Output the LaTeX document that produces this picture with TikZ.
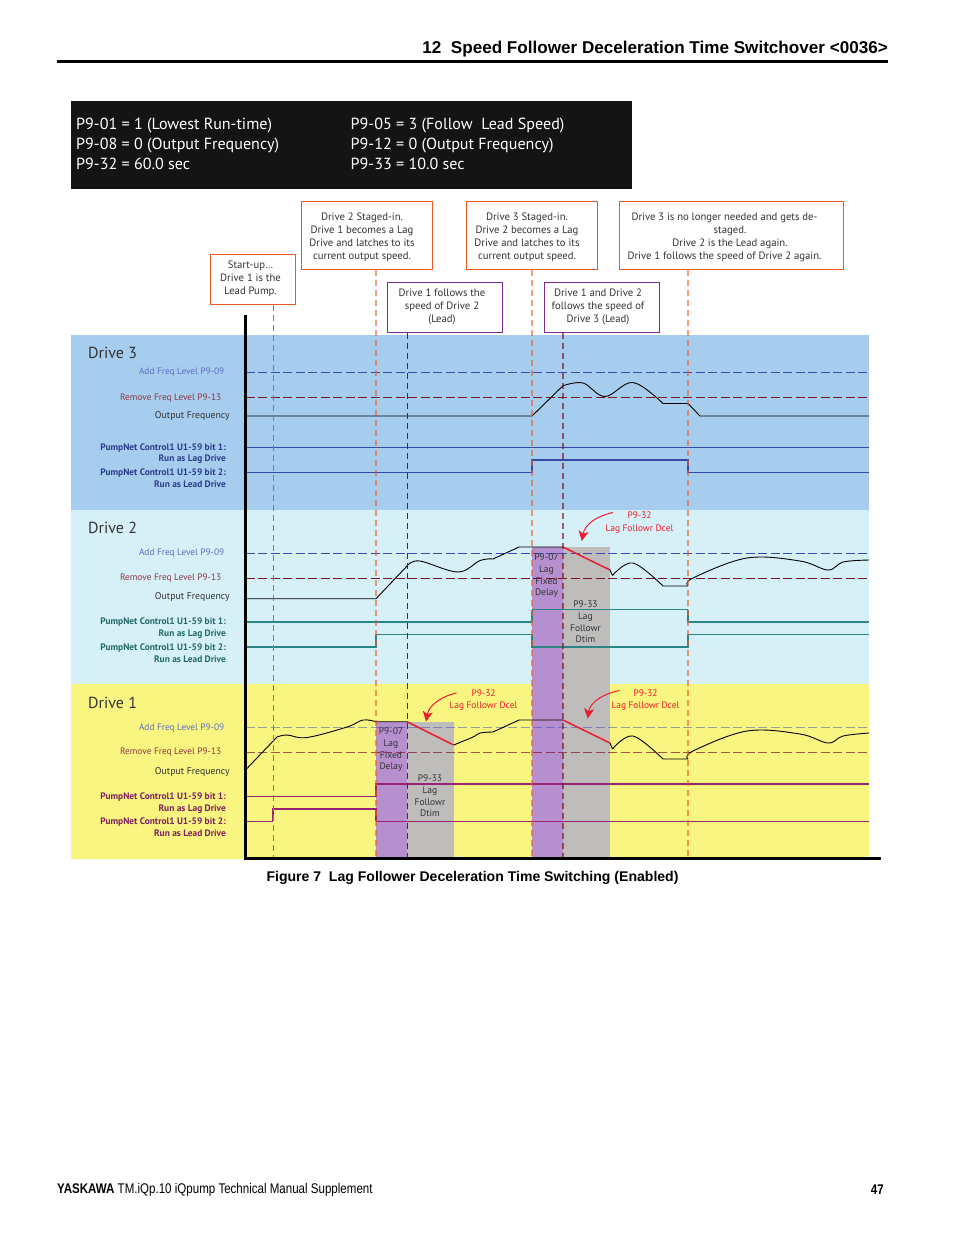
\documentclass[tikz,border=0pt]{standalone}
\usepackage{fontspec}
\setmainfont{PT Sans}
\newfontfamily\hfont{Liberation Sans}
\newfontfamily\footfont[FakeStretch=0.825]{Liberation Sans}
\usetikzlibrary{arrows.meta}
\definecolor{bandA}{HTML}{A6CDED}
\definecolor{bandB}{HTML}{D5F0F6}
\definecolor{bandC}{HTML}{F8F581}
\definecolor{purp}{HTML}{B68FCE}
\definecolor{gryb}{HTML}{BEBDBB}
\definecolor{boxor}{HTML}{EE5A24}
\definecolor{boxpu}{HTML}{7B2A8C}
\definecolor{addc}{HTML}{3A48B4}
\definecolor{remc}{HTML}{7A1424}
\definecolor{sigb}{HTML}{3547A8}
\definecolor{sigt}{HTML}{2B8585}
\definecolor{sigm}{HTML}{9A2270}
\definecolor{redc}{HTML}{EE1C2E}
\definecolor{txt}{HTML}{333333}
\tikzset{
 x=1pt,y=-1pt,
 band/.style={fill=#1,draw=none},
 note/.style={draw=#1,line width=.9pt,fill=white,inner sep=0pt},
 notetext/.style={inner sep=0pt,align=center,text=txt,font=\fontsize{10.7}{13}\selectfont},
 lab/.style={anchor=east,inner sep=0pt,font=\fontsize{9.35}{10}\selectfont,text=#1},
 olab/.style={anchor=east,inner sep=0pt,font=\fontsize{9.8}{10}\selectfont,text=txt},
 plab/.style={anchor=east,inner sep=0pt,align=right,font=\fontsize{9.4}{11.8}\bfseries\selectfont,text=#1},
 drv/.style={anchor=west,inner sep=0pt,text=txt,font=\fontsize{16}{18}\selectfont},
 addl/.style={draw=addc,line width=1pt,dash pattern=on 9pt off 3.5pt},
 reml/.style={draw=remc,line width=1pt,dash pattern=on 9pt off 3.5pt},
 vor/.style={draw=boxor,line width=1pt,dash pattern=on 6pt off 4pt},
 vlt/.style={draw=boxor,line width=1.4pt,opacity=.6,dash pattern=on 6pt off 4pt},
 vdk/.style={draw=remc,line width=1pt,dash pattern=on 6pt off 4pt},
 vdk2/.style={draw=remc,line width=1.4pt,opacity=.65,dash pattern=on 6pt off 4pt},
 curve/.style={draw=black,line width=.9pt,line join=round},
 ramp/.style={draw=redc,line width=1.5pt},
 sigthin/.style={draw=#1,line width=.8pt},
 sigthick/.style={draw=#1,line width=1.7pt},
 reda/.style={draw=redc,line width=1pt,-{Stealth[length=10pt,width=10pt,inset=2.5pt]}},
 rlab/.style={inner sep=0pt,align=center,text=redc,font=\fontsize{9.4}{12.4}\selectfont},
 intv/.style={inner sep=0pt,align=center,text=txt,font=\fontsize{9.5}{11.7}\selectfont},
}
\begin{document}
\begin{tikzpicture}
\useasboundingbox (0,0) rectangle (954,1235);
\fill[white] (0,0) rectangle (954,1235);
% header
\node[anchor=east,inner sep=0pt,font=\hfont\fontsize{17.1}{18}\bfseries\selectfont] (hdr) at (888,49.5) {12\ \ Speed Follower Deceleration Time Switchover <0036>};
\coordinate (hl) at (57,61); \coordinate (hr) at (888,61);
\draw[line width=3pt] (hl) -- (hr);
% parameter box
\fill[black!92] (71,101) rectangle (632,189);
\node[anchor=north west,inner sep=0pt,text=white,align=left,font=\fontsize{16.1}{20}\selectfont] (pa) at (76,118) {P9-01 = 1 (Lowest Run-time)\\P9-08 = 0 (Output Frequency)\\P9-32 = 60.0 sec};
\node[anchor=north west,inner sep=0pt,text=white,align=left,font=\fontsize{16.1}{20}\selectfont] (pb) at (350.5,118) {P9-05 = 3 (Follow\ \ Lead Speed)\\P9-12 = 0 (Output Frequency)\\P9-33 = 10.0 sec};
% bands
\fill[band=bandA] (71,335) rectangle (869,510);
\fill[band=bandB] (71,510) rectangle (869,684);
\fill[band=bandC] (71,684) rectangle (869,859);
% intervals
\fill[purp] (532,547) rectangle (563,858);
\fill[gryb] (563,547) rectangle (610,858);
\fill[purp] (376,721.7) rectangle (407,858);
\fill[gryb] (407,721.7) rectangle (453.7,858);
% level lines
\coordinate (la1) at (245.5,372.5); \coordinate (ra1) at (869,372.5);
\coordinate (la2) at (245.5,397.5); \coordinate (ra2) at (869,397.5);
\coordinate (lb1) at (245.5,553.3); \coordinate (rb1) at (869,553.3);
\coordinate (lb2) at (245.5,578.3); \coordinate (rb2) at (869,578.3);
\coordinate (lc1) at (245.5,727.7); \coordinate (rc1) at (869,727.7);
\coordinate (lc2) at (245.5,752.7); \coordinate (rc2) at (869,752.7);
\draw[addl] (la1) -- (ra1);
\draw[reml] (la2) -- (ra2);
\draw[addl] (lb1) -- (rb1);
\draw[reml] (lb2) -- (rb2);
\draw[addl,opacity=.5] (lc1) -- (rc1);
\draw[reml,opacity=.7] (lc2) -- (rc2);
% Drive 3 output
\draw[curve] (245.5,416) -- (532,416) -- (563,385.7) plot[smooth,tension=.6] coordinates {(563,385.7) (583,383) (605,396.5) (633,382.5) (663,403.5)} -- (688,403.5) -- (700,416) -- (869,416);
% Drive 2 output
\draw[curve] (245.5,598.7) -- (376,598.7) -- (408,565) plot[smooth,tension=.6] coordinates {(408,565) (420,561) (458,572) (480,560.5) (493,559)} -- (519,547) -- (563,547);
\draw[curve] (610,570) -- (612.5,575.5) plot[smooth,tension=.6] coordinates {(612.5,575.5) (633,563) (663,586)} -- (688,586) plot[smooth,tension=.6] coordinates {(688,586) (693,578) (747,558) (800,561) (828,570) (843,562) (869,560)};
\draw[ramp] (563,547) -- (610,570);
% Drive 1 output
\draw[curve] (245.5,770) -- (277,737) plot[smooth,tension=.6] coordinates {(277,737) (287,735) (307,737.5) (347,727) (363,720) (376,721.7)} -- (407,721.7);
\draw[curve] plot[smooth,tension=.6] coordinates {(453.7,745) (473,737) (480,733) (493,732)} -- (519,720) -- (563,720);
\draw[curve] (610,743) -- (612.5,749) plot[smooth,tension=.6] coordinates {(612.5,749) (633,736) (663,759)} -- (688,759) plot[smooth,tension=.6] coordinates {(688,759) (693,751) (747,731) (800,734) (828,743) (843,736) (869,733)};
\draw[ramp] (407,721.7) -- (453.7,745);
\draw[ramp] (563,720) -- (610,743);
% Drive 3 bits
\draw[sigthin=sigb] (245.5,447.5) -- (869,447.5);
\draw[sigthin=sigb] (245.5,472.5) -- (532,472.5);
\draw[sigthick=sigb] (532,472.5) -- (532,460) -- (688,460) -- (688,472.5);
\draw[sigthin=sigb] (688,472.5) -- (869,472.5);
% Drive 2 bits
\draw[sigthick=sigt] (245.5,622) -- (532,622) -- (532,609.7);
\draw[sigthin=sigt] (532,609.7) -- (688,609.7);
\draw[sigthick=sigt] (688,609.7) -- (688,622) -- (869,622);
\draw[sigthick=sigt] (245.5,647) -- (376,647) -- (376,634.3);
\draw[sigthin=sigt] (376,634.3) -- (532,634.3);
\draw[sigthick=sigt] (532,634.3) -- (532,647) -- (688,647) -- (688,634.3);
\draw[sigthin=sigt] (688,634.3) -- (869,634.3);
% Drive 1 bits
\draw[sigthin=sigm] (245.5,796.7) -- (376,796.7);
\draw[sigthick=sigm] (376,796.7) -- (376,784) -- (869,784);
\draw[sigthin=sigm] (245.5,821.3) -- (273.3,821.3);
\draw[sigthick=sigm] (273.3,821.3) -- (273.3,809) -- (376,809) -- (376,821.3);
\draw[sigthin=sigm] (376,821.3) -- (869,821.3);
% notes
\node[note=boxor,minimum width=85.7pt,minimum height=50pt] (n1) at (252.9,279.3) {};
\node[note=boxor,minimum width=131pt,minimum height=68.2pt] (n2) at (366.8,235.4) {};
\node[note=boxor,minimum width=131.4pt,minimum height=68.2pt] (n3) at (532,235.4) {};
\node[note=boxor,minimum width=224pt,minimum height=68.2pt] (n4) at (731.3,235.4) {};
\node[note=boxpu,minimum width=115.4pt,minimum height=50pt] (n5) at (445,307.3) {};
\node[note=boxpu,minimum width=115.4pt,minimum height=50pt] (n6) at (602,307.3) {};
\node[notetext] (t1) at (250.5,278.5) {Start-up…\\Drive 1 is the\\Lead Pump.};
\node[notetext] (t2) at (362,237) {Drive 2 Staged-in.\\Drive 1 becomes a Lag\\Drive and latches to its\\current output speed.};
\node[notetext] (t3) at (527,237) {Drive 3 Staged-in.\\Drive 2 becomes a Lag\\Drive and latches to its\\current output speed.};
\node[notetext] (t4) at (724.5,237) {Drive 3 is no longer needed and gets de-\\\hspace*{11pt}staged.\\\hspace*{11pt}Drive 2 is the Lead again.\\Drive 1 follows the speed of Drive 2 again.};
\node[notetext] (t5) at (442,306.5) {Drive 1 follows the\\speed of Drive 2\\(Lead)};
\node[notetext] (t6) at (598,306.5) {Drive 1 and Drive 2\\follows the speed of\\Drive 3 (Lead)};
% vertical event lines
\coordinate (e1) at (273.3,858); \coordinate (e2) at (376,858); \coordinate (e3) at (407,858);
\coordinate (e4) at (532,858); \coordinate (e5) at (563,858); \coordinate (e6) at (688,858);
\draw[vor] (e1 |- n1.south) -- (e1);
\draw[vlt] (e2 |- n2.south) -- (e2);
\draw[vdk] (e3 |- n5.south) -- (e3);
\draw[vlt] (e4 |- n3.south) -- (e4);
\draw[vdk2] (e5 |- n6.south) -- (e5);
\draw[vlt] (e6 |- n4.south) -- (e6);
% axes
\coordinate (ax0) at (245.5,315); \coordinate (ax1) at (245.5,858.5); \coordinate (ax2) at (881,858.5);
\draw[line width=3pt] (ax0) -- (ax1) -- (ax2);
% labels Drive 3
\node[drv] (d3) at (88,353) {Drive 3};
\node[lab=addc!80!white] (a3) at (224.5,372.5) {Add Freq Level P9-09};
\node[lab=remc!85!white] (r3) at (221.5,398) {Remove Freq Level P9-13};
\node[olab] (o3) at (230,416.5) {Output Frequency};
\node[plab=sigb!85!black] (p3) at (226,453.7) {PumpNet Control1 U1-59 bit 1:\\Run as Lag Drive};
\node[plab=sigb!85!black] (q3) at (226,478.3) {PumpNet Control1 U1-59 bit 2:\\Run as Lead Drive};
% labels Drive 2
\node[drv] (d2) at (88,527.5) {Drive 2};
\node[lab=addc!80!white] (a2) at (224.5,553.5) {Add Freq Level P9-09};
\node[lab=remc!85!white] (r2) at (221.5,578.5) {Remove Freq Level P9-13};
\node[olab] (o2) at (230,597) {Output Frequency};
\node[plab=sigt!80!black] (p2) at (226,628.5) {PumpNet Control1 U1-59 bit 1:\\Run as Lag Drive};
\node[plab=sigt!80!black] (q2) at (226,653.3) {PumpNet Control1 U1-59 bit 2:\\Run as Lead Drive};
% labels Drive 1
\node[drv] (d1) at (88,702.5) {Drive 1};
\node[lab=addc!80!white] (a1) at (224.5,728) {Add Freq Level P9-09};
\node[lab=remc!85!white] (r1) at (221.5,752.5) {Remove Freq Level P9-13};
\node[olab] (o1) at (230,772) {Output Frequency};
\node[plab=sigm!85!black] (p1) at (226,803) {PumpNet Control1 U1-59 bit 1:\\Run as Lag Drive};
\node[plab=sigm!85!black] (q1) at (226,827.5) {PumpNet Control1 U1-59 bit 2:\\Run as Lead Drive};
% interval labels
\node[intv] (i1) at (546.5,576) {P9-07\\Lag\\Fixed\\Delay};
\node[intv] (i2) at (585.5,622) {P9-33\\Lag\\Followr\\Dtim};
\node[intv] (i3) at (391,750) {P9-07\\Lag\\Fixed\\Delay};
\node[intv] (i4) at (430,796) {P9-33\\Lag\\Followr\\Dtim};
% red callouts
\node[rlab] (c1) at (639.5,522.5) {P9-32\\Lag Followr Dcel};
\node[rlab] (c2) at (483.5,700) {P9-32\\Lag Followr Dcel};
\node[rlab] (c3) at (645.5,700) {P9-32\\Lag Followr Dcel};
\coordinate (t1a) at (581.7,541); \coordinate (t2a) at (426,721.5); \coordinate (t3a) at (587.7,718.5);
\draw[reda] (c1.west) ++(7.5,-10) .. controls (597,516) and (585,524) .. (t1a);
\draw[reda] (c2.west) ++(7,-7) .. controls (442,696) and (429,705) .. (t2a);
\draw[reda] (c3.west) ++(8,-9.5) .. controls (605,693) and (590,702) .. (t3a);
% caption and footer
\node[inner sep=0pt,font=\hfont\fontsize{14.05}{15}\bfseries\selectfont] (cap) at (472.5,877.5) {Figure 7\ \ Lag Follower Deceleration Time Switching (Enabled)};
\node[anchor=west,inner sep=0pt,font=\footfont\fontsize{14}{15}\selectfont] (ft) at (57,1190) {\textbf{YASKAWA} TM.iQp.10 iQpump Technical Manual Supplement};
\node[anchor=east,inner sep=0pt,font=\footfont\fontsize{14}{15}\bfseries\selectfont] (pg) at (884,1190) {47};
\end{tikzpicture}
\end{document}
